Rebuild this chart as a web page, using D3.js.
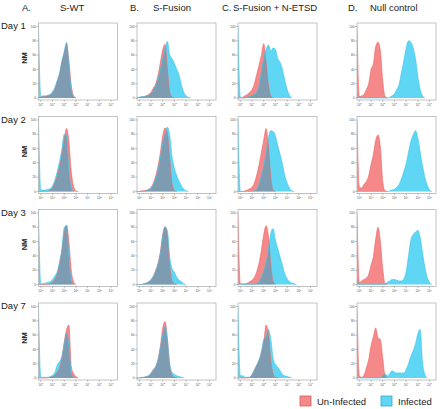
<!DOCTYPE html>
<html><head><meta charset="utf-8">
<script src="https://cdn.jsdelivr.net/npm/d3@7"></script>
<style>html,body{margin:0;padding:0;background:#fff;}svg{display:block;font-family:"Liberation Sans",Arial,sans-serif;}</style>
</head><body>
<svg id="chart" width="440" height="409"></svg>
<script>
// ---- data: histogram heights (% of max) on a log10 grid starting at -0.2, step 0.2 decades ----
const gridStart = -0.2, gridStep = 0.2;
const columns = ["S-WT", "S-Fusion", "S-Fusion + N-ETSD", "Null control"];
const letters = ["A.", "B.", "C.", "D."];
const days = ["Day 1", "Day 2", "Day 3", "Day 7"];
const yTicks = [0, 20, 40, 60, 80, 100];
const xTickDecades = [0, 1, 2, 3, 4, 5, 6];
const seriesNames = ["Un-Infected", "Infected"];

// Day 1
const d1_A_un  = [0,1,2,2,3,4,7,12,22,33,50,63,75,52,18,3,0];
const d1_A_inf = [100,2,3,3,4,5,9,15,25,35,52,65,78,45,12,2,0];
const d1_B_un  = [0,1,1,2,3,5,8,14,20,32,50,68,75,40,8,1,0];
const d1_B_inf = [0,1,2,2,3,4,7,11,17,27,40,55,70,79,60,55,48,40,32,18,8,3,1,0];
const d1_C_un  = [0,0,1,3,5,8,12,20,33,46,60,76,50,18,3,0];
const d1_C_inf = [100,1,0,0,1,2,3,5,8,17,36,55,68,74,66,70,68,55,50,40,25,12,4,0];
const d1_D_un  = [100,2,3,5,12,20,40,48,72,78,66,24,2,0];
const d1_D_inf = [5,0,0,0,0,0,0,0,0,0,0,0,0,0,1,3,6,12,19,36,52,70,80,78,70,55,30,12,3,0];
// Day 2
const d2_A_un  = [0,0,0,0,0,2,5,12,22,35,52,72,88,70,28,7,1,0];
const d2_A_inf = [100,2,2,2,3,4,8,16,28,42,60,80,76,30,4,0];
const d2_B_un  = [0,0,1,1,2,3,6,12,22,36,55,78,89,80,45,10,1,0];
const d2_B_inf = [0,0,0,0,1,2,4,9,18,30,48,68,80,90,78,48,32,22,14,8,3,1,0];
const d2_C_un  = [0,0,0,1,2,4,6,12,23,37,55,72,88,64,20,2,0];
const d2_C_inf = [100,0,0,0,0,0,0,1,3,10,22,35,55,75,85,84,78,64,52,38,22,12,5,1,0];
const d2_D_un  = [100,6,5,10,14,22,38,52,72,79,62,14,1,0];
const d2_D_inf = [0,0,0,0,0,0,0,0,0,0,0,0,0,0,1,2,3,6,10,18,28,39,55,70,79,85,75,55,36,20,9,2,0];
// Day 3
const d3_A_un  = [0,0,0,0,0,1,3,7,14,28,48,72,83,60,20,4,0];
const d3_A_inf = [100,1,1,2,3,4,7,12,18,32,50,80,82,38,5,0];
const d3_B_un  = [0,0,0,1,2,4,7,12,20,30,46,70,81,68,25,5,1,0];
const d3_B_inf = [0,0,0,1,2,3,6,11,19,28,43,68,80,75,38,22,17,10,6,4,1,0];
const d3_C_un  = [100,1,1,1,2,4,6,10,18,30,48,70,82,68,28,4,0];
const d3_C_inf = [0,0,0,0,0,0,0,0,1,4,10,19,30,48,72,78,62,50,38,27,15,8,4,2,1,0];
const d3_D_un  = [100,3,5,7,9,14,27,39,64,80,60,22,1,0];
const d3_D_inf = [8,0,0,0,0,0,0,0,0,0,0,0,1,3,5,7,7,6,5,5,8,18,40,62,70,73,76,66,44,24,10,3,0];
// Day 7
const d7_A_un  = [0,0,0,0,0,1,2,4,8,14,28,50,68,74,16,6,2,0];
const d7_A_inf = [100,1,1,1,1,2,4,8,18,23,30,48,62,46,6,1,0];
const d7_B_un  = [0,0,1,1,2,3,7,12,16,26,45,70,79,55,16,4,1,0];
const d7_B_inf = [0,0,0,1,2,3,6,11,16,26,42,60,72,52,20,8,5,3,2,1,0];
const d7_C_un  = [0,0,0,0,0,1,5,11,18,25,36,50,74,62,25,6,1,0];
const d7_C_inf = [100,3,3,1,1,1,5,11,18,25,36,54,58,68,55,28,19,15,10,5,3,2,1,0];
const d7_D_un  = [100,3,1,4,14,26,45,58,70,56,54,28,3,0];
const d7_D_inf = [0,0,0,0,0,0,0,0,0,0,0,3,6,3,6,10,8,7,7,7,7,12,20,30,38,48,62,68,22,5,0];

const uninfected = [
  [d1_A_un, d1_B_un, d1_C_un, d1_D_un],
  [d2_A_un, d2_B_un, d2_C_un, d2_D_un],
  [d3_A_un, d3_B_un, d3_C_un, d3_D_un],
  [d7_A_un, d7_B_un, d7_C_un, d7_D_un]
];
const infected = [
  [d1_A_inf, d1_B_inf, d1_C_inf, d1_D_inf],
  [d2_A_inf, d2_B_inf, d2_C_inf, d2_D_inf],
  [d3_A_inf, d3_B_inf, d3_C_inf, d3_D_inf],
  [d7_A_inf, d7_B_inf, d7_C_inf, d7_D_inf]
];

// ---- layout / style ----
const colX = [38.5, 137, 238, 357];
const rowY = [23, 116.5, 209.5, 303];
const pw = 79, ph = 77;
const redFill = "#f58888", redLine = "#ef6464";
const blueFill = "#5fd6f4", blueLine = "#38c4ec";
const overlapFill = "#7d9cb2";

const svg = d3.select("#chart");
const defs = svg.append("defs");

const x = d3.scaleLinear().domain([-0.2, 6.55]).range([0, pw]);
const y = d3.scaleLinear().domain([0, 100]).range([ph - 2, 3.5]);

const toPts = arr => arr.map((v, i) => ({d: gridStart + i * gridStep, v}));
const area = d3.area().curve(d3.curveMonotoneX).x(p => x(p.d)).y0(y(0)).y1(p => y(p.v));
const line = d3.line().curve(d3.curveMonotoneX).x(p => x(p.d)).y(p => y(p.v));

// column headers
const headerX = [[22, 60], [130, 153], [222, 233], [348, 370]];
columns.forEach((c, j) => {
  svg.append("text").attr("x", headerX[j][0]).attr("y", 10.5).attr("font-size", 9.5).attr("fill", "#222").text(letters[j]);
  svg.append("text").attr("x", headerX[j][1]).attr("y", 10.5).attr("font-size", 9.5).attr("fill", "#222").text(c);
});

days.forEach((dl, i) => {
  svg.append("text").attr("x", 1).attr("y", rowY[i] + 6).attr("font-size", 9.5).attr("fill", "#222").text(dl);
  svg.append("text").attr("transform", `translate(27,${rowY[i] + 35}) rotate(-90)`)
    .attr("text-anchor", "middle").attr("font-size", 7.5).attr("font-weight", "bold").attr("fill", "#222").text("NM");

  columns.forEach((c, j) => {
    const g = svg.append("g").attr("transform", `translate(${colX[j]},${rowY[i]})`);
    const id = `p${i}${j}`;
    defs.append("clipPath").attr("id", "box" + id).append("rect").attr("width", pw).attr("height", ph);
    const redPts = toPts(uninfected[i][j]);
    const bluePts = toPts(infected[i][j]);
    defs.append("clipPath").attr("id", "red" + id).append("path").attr("d", area(redPts));

    const plot = g.append("g").attr("clip-path", `url(#box${id})`);
    plot.append("path").attr("d", area(redPts)).attr("fill", redFill);
    plot.append("path").attr("d", area(bluePts)).attr("fill", blueFill);
    plot.append("path").attr("d", area(bluePts)).attr("fill", overlapFill).attr("clip-path", `url(#red${id})`);
    plot.append("path").attr("d", line(redPts)).attr("fill", "none").attr("stroke", redLine).attr("stroke-width", 0.6);
    plot.append("path").attr("d", line(bluePts)).attr("fill", "none").attr("stroke", blueLine).attr("stroke-width", 0.6);

    g.append("rect").attr("width", pw).attr("height", ph).attr("fill", "none").attr("stroke", "#b4b4b4").attr("stroke-width", 0.8);

    // y axis ticks
    yTicks.forEach(t => {
      g.append("line").attr("x1", -1.8).attr("x2", 0).attr("y1", y(t)).attr("y2", y(t)).attr("stroke", "#666").attr("stroke-width", 0.4);
      g.append("text").attr("x", -2.4).attr("y", y(t) + 1.1).attr("text-anchor", "end").attr("font-size", 3.2).attr("fill", "#555").text(t);
    });
    // x axis ticks
    xTickDecades.forEach(t => {
      g.append("line").attr("x1", x(t)).attr("x2", x(t)).attr("y1", ph).attr("y2", ph + 1.8).attr("stroke", "#666").attr("stroke-width", 0.4);
      const tx = g.append("text").attr("x", x(t)).attr("y", ph + 5.5).attr("text-anchor", "middle").attr("font-size", 3.2).attr("fill", "#555");
      tx.append("tspan").text("10");
      tx.append("tspan").attr("dy", -1.2).attr("font-size", 2.4).text(t);
    });
  });
});

// legend
const legend = [
  {name: seriesNames[0], x: 300, fill: redFill, stroke: "#d06060"},
  {name: seriesNames[1], x: 381, fill: blueFill, stroke: "#3aa8c8"}
];
legend.forEach(l => {
  svg.append("rect").attr("x", l.x).attr("y", 396).attr("width", 11).attr("height", 10)
    .attr("fill", l.fill).attr("stroke", l.stroke).attr("stroke-width", 0.8);
  svg.append("text").attr("x", l.x + 17).attr("y", 405).attr("font-size", 9.5).attr("fill", "#222").text(l.name);
});
</script>
</body></html>
